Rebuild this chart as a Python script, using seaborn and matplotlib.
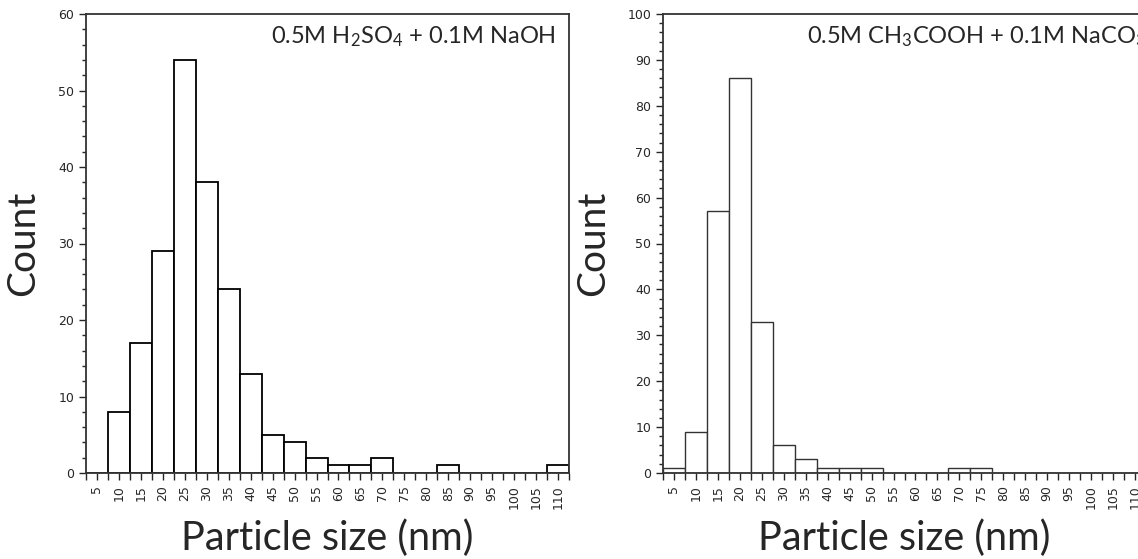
import numpy as np
import pandas as pd
import matplotlib
matplotlib.use("Agg")
import matplotlib.pyplot as plt
import seaborn as sns
from matplotlib.ticker import MultipleLocator, FixedLocator

# particle size bins (nm)
sizes = ['5', '10', '15', '20', '25', '30', '35', '40', '45', '50', '55', '60', '65',
         '70', '75', '80', '85', '90', '95', '100', '105', '110']
# counts, 0.5M H2SO4 + 0.1M NaOH
counts_h2so4 = [0, 8, 17, 29, 54, 38, 24, 13, 5, 4, 2, 1, 1, 2, 0, 0, 1, 0, 0, 0, 0, 1]
# counts, 0.5M CH3COOH + 0.1M NaCO3
counts_ch3cooh = [1, 9, 57, 86, 33, 6, 3, 1, 1, 1, 0, 0, 0, 1, 1, 0, 0, 0, 0, 0, 0, 0]

sns.set_style("ticks")
plt.rcParams['font.family'] = ['Lato', 'DejaVu Sans']
plt.rcParams['mathtext.default'] = 'regular'

fig = plt.figure(figsize=(11.38, 5.59), dpi=100)
W, H = 1138, 559
ax1 = fig.add_axes([86 / W, (H - 473) / H, 483 / W, 459 / H])
ax2 = fig.add_axes([663 / W, (H - 473) / H, 483 / W, 459 / H])

panels = [
    (ax1, counts_h2so4, 60, 'black', 1.3, "0.5M H$_2$SO$_4$ + 0.1M NaOH"),
    (ax2, counts_ch3cooh, 100, '#333333', 1.0, "0.5M CH$_3$COOH + 0.1M NaCO$_3$"),
]

for ax, counts, ymax, ec, lw, label in panels:
    df = pd.DataFrame({'size': sizes, 'count': counts})
    sns.barplot(data=df, x='size', y='count', order=sizes, color='white',
                edgecolor=ec, linewidth=lw, width=1.0, saturation=1, ax=ax)
    ax.set_xlim(-0.5, len(sizes) - 0.5)
    ax.set_ylim(0, ymax)
    ax.yaxis.set_major_locator(MultipleLocator(10))
    ax.yaxis.set_minor_locator(MultipleLocator(2))
    ax.xaxis.set_minor_locator(FixedLocator(np.arange(-0.5, len(sizes), 1.0)))
    ax.tick_params(axis='x', which='major', labelrotation=90, labelsize=9, length=5, width=1)
    ax.tick_params(axis='x', which='minor', length=5, width=1)
    ax.tick_params(axis='y', which='major', labelsize=9, length=5, width=1)
    ax.tick_params(axis='y', which='minor', length=3, width=1)
    for lbl in ax.get_xticklabels() + ax.get_yticklabels():
        lbl.set_family(['DejaVu Sans'])
    for sp in ax.spines.values():
        sp.set_visible(True)
        sp.set_color('#333333')
        sp.set_linewidth(1.3)
    ax.set_xlabel('Particle size (nm)', fontsize=28.5, labelpad=8)
    ax.set_ylabel('Count', fontsize=28, labelpad=12)

ax1.text(0.973, 0.95, panels[0][5], transform=ax1.transAxes, ha='right', va='center', fontsize=17)
ax2.text(0.298, 0.95, panels[1][5], transform=ax2.transAxes, ha='left', va='center', fontsize=17)

fig.savefig('out.png', dpi=100)
